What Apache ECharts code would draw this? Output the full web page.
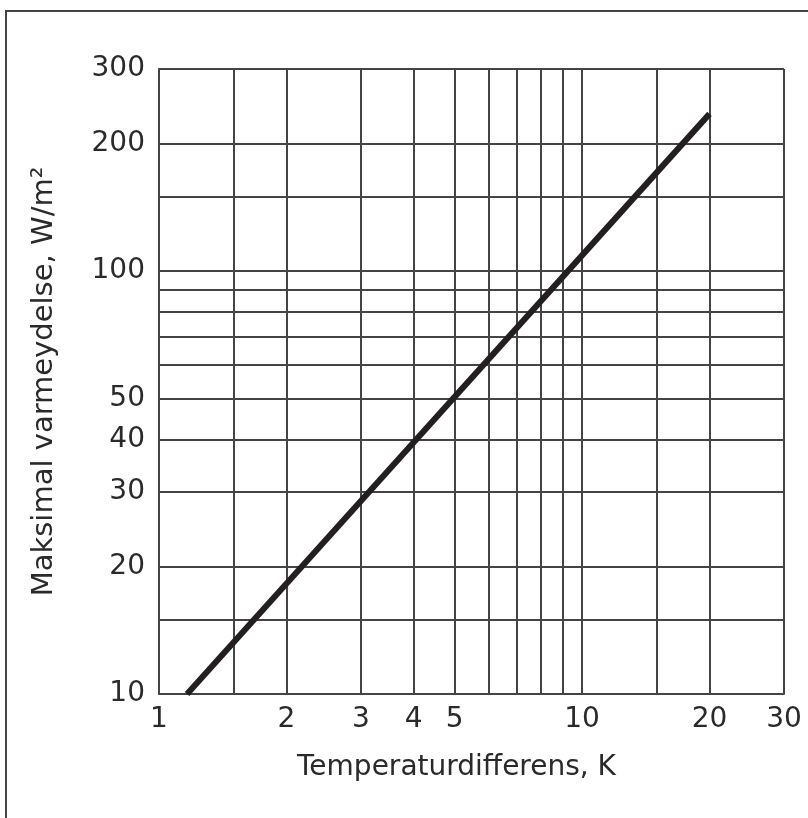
<!DOCTYPE html>
<html>
<head>
<meta charset="utf-8">
<title>Maksimal varmeydelse</title>
<script src="https://cdn.jsdelivr.net/npm/echarts@6/dist/echarts.min.js"></script>
<style>
  html, body { margin: 0; padding: 0; background: #fff; }
  #chart { width: 808px; height: 818px; }
</style>
</head>
<body>
<div id="chart"></div>
<script>
// grid lines and labels (log-log paper)
const xGrid = [1, 1.5, 2, 3, 4, 5, 6, 7, 8, 9, 10, 15, 20, 30];
const xLabels = [1, 2, 3, 4, 5, 10, 20, 30];
const yGrid = [10, 15, 20, 30, 40, 50, 60, 70, 80, 90, 100, 150, 200, 300];
const yLabels = [10, 20, 30, 40, 50, 100, 200, 300];

// the curve: temperature difference (K) -> max heat output (W/m²)
const deltaT = [1.165, 20];
const heatOutput = [10, 235];

const fontFamily = "'DejaVu Sans', Verdana, sans-serif";
const textColor = '#2a2a2a';
const gridColor = '#444';

const chart = echarts.init(document.getElementById('chart'));

chart.setOption({
  animation: false,
  backgroundColor: '#fff',
  grid: { left: 159, right: 24, top: 69, bottom: 124 },
  graphic: [{
    // outer frame, only left and top edges are inside the picture
    type: 'rect',
    shape: { x: 6, y: 11, width: 900, height: 900 },
    style: { fill: 'none', stroke: gridColor, lineWidth: 2 },
    silent: true
  }],
  xAxis: {
    type: 'log',
    logBase: 10,
    min: 1,
    max: 30,
    name: 'Temperaturdifferens, K',
    nameLocation: 'middle',
    nameGap: 60,
    nameTextStyle: { fontFamily: fontFamily, fontSize: 28, color: textColor, padding: [0, 30, 0, 0] },
    axisLine: { show: true, lineStyle: { color: gridColor, width: 2 } },
    axisTick: { show: false, customValues: xGrid },
    axisLabel: {
      customValues: xLabels,
      fontFamily: fontFamily,
      fontSize: 28,
      color: textColor,
      margin: 12,
      formatter: v => String(v)
    },
    splitLine: { show: true, lineStyle: { color: gridColor, width: 2 } }
  },
  yAxis: {
    type: 'log',
    logBase: 10,
    min: 10,
    max: 300,
    name: 'Maksimal varmeydelse, W/m²',
    nameLocation: 'middle',
    nameGap: 100,
    nameTextStyle: { fontFamily: fontFamily, fontSize: 29, color: textColor },
    axisLine: { show: true, lineStyle: { color: gridColor, width: 2 } },
    axisTick: { show: false, customValues: yGrid },
    axisLabel: {
      customValues: yLabels,
      fontFamily: fontFamily,
      fontSize: 28,
      color: textColor,
      margin: 14,
      formatter: v => String(v)
    },
    splitLine: { show: true, lineStyle: { color: gridColor, width: 2 } }
  },
  series: [{
    type: 'line',
    data: deltaT.map((t, i) => [t, heatOutput[i]]),
    showSymbol: false,
    clip: true,
    lineStyle: { color: '#231f20', width: 6 }
  }]
});
</script>
</body>
</html>
